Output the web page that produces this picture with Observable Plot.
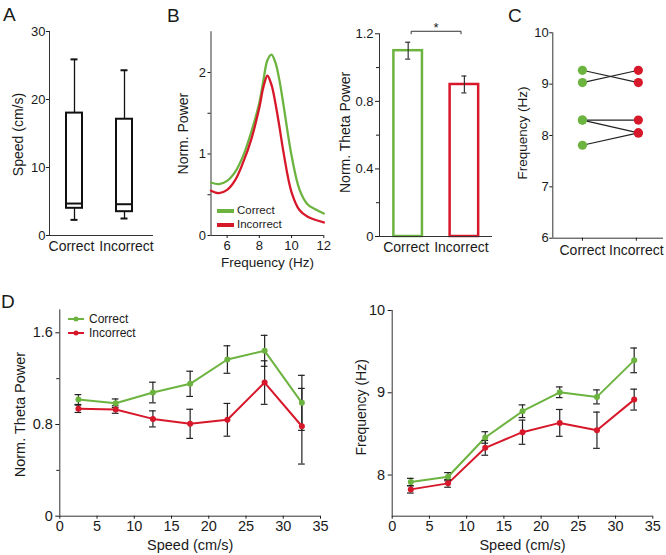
<!DOCTYPE html>
<html><head><meta charset="utf-8">
<script src="https://cdn.jsdelivr.net/npm/d3@7"></script>
<script src="https://cdn.jsdelivr.net/npm/@observablehq/plot@0.6"></script>
<style>
body{margin:0;background:#fff;}
#fig{position:relative;width:666px;height:555px;background:#fff;font-family:"Liberation Sans",Arial,sans-serif;color:#1a1a1a;overflow:hidden}
.letter{position:absolute;font-size:19px;line-height:1;}
.leg{position:absolute;line-height:1;display:flex;align-items:center;white-space:nowrap}
</style></head><body><div id="fig"></div>
<script>
// ---------- data ----------
const categories = ["Correct", "Incorrect"];
const GREEN = "#6cb33f", RED = "#d7182a";
// A: running speed box plots
const speedMin = [2.3, 2.5];
const speedQ1 = [4.0, 3.5];
const speedMedian = [4.7, 4.6];
const speedQ3 = [18.0, 17.1];
const speedMax = [25.9, 24.3];
const speedTicks = [0, 10, 20, 30];
// B left: power spectra
const spectrumFreq = [5, 5.5, 6, 6.5, 7, 7.5, 8, 8.25, 8.5, 8.75, 9, 9.25, 9.5, 10, 10.5, 11, 11.5, 12];
const powerCorrect = [0.65, 0.63, 0.67, 0.78, 0.98, 1.27, 1.63, 1.90, 2.15, 2.22, 2.12, 1.90, 1.60, 0.98, 0.56, 0.38, 0.32, 0.27];
const powerIncorrect = [0.55, 0.52, 0.56, 0.68, 0.90, 1.18, 1.57, 1.82, 1.96, 1.85, 1.62, 1.33, 1.02, 0.53, 0.31, 0.23, 0.19, 0.16];
const freqTicks = [6, 8, 10, 12];
const powerTicks = [0, 1, 2];
const powerMinorTicks = [0.5, 1.5];
// B right: theta power bars
const thetaMean = [1.10, 0.90];
const thetaSem = [0.05, 0.05];
const thetaTicks = [0, 0.4, 0.8, 1.2];
const thetaMinorTicks = [0.2, 0.6, 1.0];
const sigBracketX = [1.053, 1.053, 1.94, 1.94];
const sigBracketY = [1.2, 1.215, 1.215, 1.2];
const sigLabel = "*";
// C: per-animal frequency
const animalFreqCorrect = [9.27, 9.03, 8.30, 8.30, 7.81];
const animalFreqIncorrect = [9.03, 9.27, 8.30, 8.05, 8.05];
const freqCTicks = [6, 7, 8, 9, 10];
// D: by speed
const speedBins = [2.5, 7.5, 12.5, 17.5, 22.5, 27.5, 32.5];
const thetaByCorrect = [1.018, 0.986, 1.079, 1.155, 1.367, 1.443, 0.989];
const thetaByCorrectSem = [0.043, 0.037, 0.09, 0.11, 0.12, 0.135, 0.24];
const thetaByIncorrect = [0.937, 0.931, 0.849, 0.806, 0.841, 1.166, 0.785];
const thetaByIncorrectSem = [0.032, 0.033, 0.07, 0.127, 0.143, 0.19, 0.33];
const freqByCorrect = [7.915, 7.98, 8.457, 8.776, 9.006, 8.95, 9.394];
const freqByCorrectSem = [0.045, 0.05, 0.07, 0.077, 0.065, 0.085, 0.15];
const freqByIncorrect = [7.826, 7.899, 8.331, 8.521, 8.634, 8.545, 8.917];
const freqByIncorrectSem = [0.045, 0.047, 0.09, 0.147, 0.163, 0.22, 0.127];
const speedTicksD = [0, 5, 10, 15, 20, 25, 30, 35];
const thetaDTicks = [0, 0.8, 1.6];
const thetaDMinorTicks = [0.4, 1.2];
const freqDTicks = [8, 9, 10];

// ---------- helpers ----------
const fig = document.getElementById("fig");
const FONT = '"Liberation Sans", Arial, sans-serif';
const AX = "#333";
const TXT = "#1a1a1a";
const colorScale = {domain: categories, range: [GREEN, RED]};
function place(el, left, top) {
  el.style.position = "absolute"; el.style.left = left + "px"; el.style.top = top + "px";
  fig.appendChild(el);
}
function base(o) {
  return Object.assign({style: {fontFamily: FONT, fontSize: "13px", color: TXT, background: "transparent", overflow: "visible"}}, o);
}
const fmt = d => String(d);
const catFmt = i => categories[i - 1];
function yTitle(t, dx, dy, size) {
  return Plot.text([t], {text: d => d, frameAnchor: "left", textAnchor: "middle", lineAnchor: "middle", rotate: -90, dx, dy, fontSize: size, fill: TXT});
}
function xTitle(t, dy, size) {
  return Plot.text([t], {text: d => d, frameAnchor: "bottom", textAnchor: "middle", lineAnchor: "middle", dy, fontSize: size, fill: TXT});
}
function catAxis(tickSize, pad, dxs) {
  return [1, 2].map((t, k) => Plot.axisX({ticks: [t], tickSize, tickPadding: pad, label: null, tickFormat: catFmt, fontSize: 14, dx: dxs[k]}));
}
function letter(t, l, tp) { const d = document.createElement("div"); d.className = "letter"; d.textContent = t; d.style.left = l + "px"; d.style.top = tp + "px"; fig.appendChild(d); }

// ---------- A ----------
const boxData = categories.map((c, k) => ({cat: c, i: k + 1, min: speedMin[k], q1: speedQ1[k], med: speedMedian[k], q3: speedQ3[k], max: speedMax[k]}));
const xA = [0.5, 2.58];
place(Plot.plot(base({
  width: 160, height: 275, marginLeft: 49, marginRight: 7, marginTop: 31, marginBottom: 40,
  x: {domain: xA}, y: {domain: [0, 30]},
  marks: [
    Plot.ruleX([xA[0]], {stroke: AX}),
    Plot.ruleY([0], {stroke: AX}),
    Plot.axisY({ticks: speedTicks, tickSize: 3, tickPadding: 1, label: null, tickFormat: fmt, fontSize: 13}),
    ...catAxis(0, 6, [-3, 2]),
    Plot.ruleX(boxData, {x: "i", y1: "q3", y2: "max", stroke: "#111", strokeWidth: 1.3}),
    Plot.ruleX(boxData, {x: "i", y1: "min", y2: "q1", stroke: "#111", strokeWidth: 1.3}),
    Plot.rect(boxData, {x1: d => d.i - 0.16, x2: d => d.i + 0.16, y1: "q1", y2: "q3", fill: "white", stroke: "#111", strokeWidth: 2}),
    Plot.ruleY(boxData, {y: "med", x1: d => d.i - 0.16, x2: d => d.i + 0.16, stroke: "#111", strokeWidth: 2}),
    Plot.ruleY(boxData, {y: "max", x1: d => d.i - 0.07, x2: d => d.i + 0.07, stroke: "#111", strokeWidth: 2}),
    Plot.ruleY(boxData, {y: "min", x1: d => d.i - 0.07, x2: d => d.i + 0.07, stroke: "#111", strokeWidth: 2}),
    yTitle("Speed (cm/s)", -31, 1, 14)
  ]
})), 0, 0);

// ---------- B left ----------
const spec = [];
spectrumFreq.forEach((f, k) => { spec.push({f, v: powerCorrect[k], cat: categories[0]}); spec.push({f, v: powerIncorrect[k], cat: categories[1]}); });
place(Plot.plot(base({
  width: 165, height: 275, marginLeft: 45.5, marginRight: 6.7, marginTop: 31.25, marginBottom: 40,
  x: {domain: [5, 12]}, y: {domain: [0, 2.5]}, color: colorScale,
  marks: [
    Plot.ruleX([5], {stroke: AX}),
    Plot.ruleY([0], {stroke: AX}),
    Plot.axisY({ticks: powerTicks, tickSize: 3, tickPadding: 2, label: null, tickFormat: fmt, fontSize: 13}),
    Plot.axisY({ticks: powerMinorTicks, tickSize: 3, label: null, tickFormat: () => ""}),
    Plot.axisX({ticks: freqTicks, tickSize: 3, tickPadding: 2, label: null, tickFormat: fmt, fontSize: 13}),
    Plot.line(spec, {x: "f", y: "v", z: "cat", stroke: "cat", strokeWidth: 2.3, curve: "catmull-rom"}),
    yTitle("Norm. Power", -27.5, 0, 14),
    xTitle("Frequency (Hz)", 27.5, 13.5)
  ]
})), 165, 0);
categories.forEach((c, k) => {
  const d = document.createElement("div"); d.className = "leg"; d.style.fontSize = "11.5px";
  d.innerHTML = `<span style="display:inline-block;width:17px;height:4px;background:${colorScale.range[k]};margin-right:3px"></span>${c}`;
  d.style.left = "217px"; d.style.top = (205 + k * 14) + "px"; d.style.height = "12px";
  fig.appendChild(d);
});

// ---------- B right ----------
const bars = categories.map((c, k) => ({cat: c, i: k + 1, m: thetaMean[k], s: thetaSem[k]}));
const bracket = sigBracketX.map((x, k) => ({x, y: sigBracketY[k]}));
const xB = [0.49, 2.5];
place(Plot.plot(base({
  width: 160, height: 275, marginLeft: 44, marginRight: 3, marginTop: 33.3, marginBottom: 39,
  x: {domain: xB}, y: {domain: [0, 1.2]}, color: colorScale,
  marks: [
    Plot.ruleX([xB[0]], {stroke: AX}),
    Plot.axisY({ticks: thetaTicks, tickSize: 4, tickPadding: 2, label: null, tickFormat: fmt, fontSize: 13}),
    Plot.axisY({ticks: thetaMinorTicks, tickSize: 3, label: null, tickFormat: () => ""}),
    ...catAxis(0, 6, [-2, -3]),
    Plot.rect(bars, {x1: d => d.i - 0.254, x2: d => d.i + 0.254, y1: 0, y2: "m", fill: "white", stroke: "cat", strokeWidth: 2.5}),
    Plot.ruleY([0], {stroke: AX}),
    Plot.ruleX(bars, {x: "i", y1: d => d.m - d.s, y2: d => d.m + d.s, stroke: "#333", strokeWidth: 1.2}),
    Plot.ruleY(bars, {y: d => d.m - d.s, x1: d => d.i - 0.045, x2: d => d.i + 0.045, stroke: "#333", strokeWidth: 1.2}),
    Plot.ruleY(bars, {y: d => d.m + d.s, x1: d => d.i - 0.045, x2: d => d.i + 0.045, stroke: "#333", strokeWidth: 1.2}),
    Plot.line(bracket, {x: "x", y: "y", stroke: "#333", strokeWidth: 1}),
    Plot.text([sigLabel], {text: d => d, x: (sigBracketX[0] + sigBracketX[2]) / 2, y: sigBracketY[1], dy: -3, fontSize: 13, fill: TXT}),
    yTitle("Norm. Theta Power", -34, -2.7, 14)
  ]
})), 335, 0);

// ---------- C ----------
const pairs = animalFreqCorrect.map((v, k) => ({c: v, w: animalFreqIncorrect[k]}));
const ptsC = [];
pairs.forEach(p => { ptsC.push({i: 1, v: p.c, cat: categories[0]}); ptsC.push({i: 2, v: p.w, cat: categories[1]}); });
const xC = [0.47, 2.45];
place(Plot.plot(base({
  width: 166, height: 275, marginLeft: 52.3, marginRight: 3, marginTop: 32.3, marginBottom: 37.3,
  x: {domain: xC}, y: {domain: [6, 10]}, color: colorScale,
  marks: [
    Plot.ruleX([xC[0]], {stroke: AX}),
    Plot.ruleY([6], {stroke: AX}),
    Plot.axisY({ticks: freqCTicks, tickSize: 3, tickPadding: 1, label: null, tickFormat: fmt, fontSize: 13}),
    ...catAxis(3, 4, [0, -2]),
    Plot.link(pairs, {x1: () => 1, y1: "c", x2: () => 2, y2: "w", stroke: "#222", strokeWidth: 1.2}),
    Plot.dot(ptsC, {x: "i", y: "v", r: 4.6, fill: "cat", stroke: "none"}),
    yTitle("Frequency (Hz)", -30, -2.5, 13.5)
  ]
})), 500, 0);

// ---------- D ----------
function seriesD(vc, sc, vi, si) {
  const out = [];
  speedBins.forEach((s, k) => { out.push({s, v: vc[k], e: sc[k], cat: categories[0]}); out.push({s, v: vi[k], e: si[k], cat: categories[1]}); });
  return out;
}
function errMarks(data) {
  return [
    Plot.ruleX(data, {x: "s", y1: d => d.v - d.e, y2: d => d.v + d.e, stroke: "#222", strokeWidth: 1.2}),
    Plot.ruleY(data, {y: d => d.v - d.e, x1: d => d.s - 0.45, x2: d => d.s + 0.45, stroke: "#222", strokeWidth: 1.2}),
    Plot.ruleY(data, {y: d => d.v + d.e, x1: d => d.s - 0.45, x2: d => d.s + 0.45, stroke: "#222", strokeWidth: 1.2})
  ];
}
const dTheta = seriesD(thetaByCorrect, thetaByCorrectSem, thetaByIncorrect, thetaByIncorrectSem);
place(Plot.plot(base({
  width: 335, height: 265, marginLeft: 59.3, marginRight: 15, marginTop: 19.4, marginBottom: 39.3,
  x: {domain: [0, 35]}, y: {domain: [0, 1.8]}, color: colorScale,
  marks: [
    Plot.ruleX([0], {stroke: AX}),
    Plot.ruleY([0], {stroke: AX}),
    Plot.axisY({ticks: thetaDTicks, tickSize: 4, tickPadding: 3, label: null, tickFormat: fmt, fontSize: 14.5}),
    Plot.axisY({ticks: thetaDMinorTicks, tickSize: 3, label: null, tickFormat: () => ""}),
    Plot.axisX({ticks: speedTicksD, tickSize: 3, tickPadding: 2, label: null, tickFormat: fmt, fontSize: 14.5}),
    Plot.line(dTheta, {x: "s", y: "v", z: "cat", stroke: "cat", strokeWidth: 2}),
    ...errMarks(dTheta),
    Plot.dot(dTheta, {x: "s", y: "v", r: 3, fill: "cat", stroke: "none"}),
    yTitle("Norm. Theta Power", -39.3, 1.5, 14.5),
    xTitle("Speed (cm/s)", 29.3, 14.5)
  ]
})), 0, 290);
categories.forEach((c, k) => {
  const col = colorScale.range[k];
  const d = document.createElement("div"); d.className = "leg"; d.style.fontSize = "12px";
  d.innerHTML = `<svg width="16" height="8" style="margin-right:5px"><line x1="0" y1="4" x2="16" y2="4" stroke="${col}" stroke-width="2"/><circle cx="8" cy="4" r="2.5" fill="${col}"/></svg>${c}`;
  d.style.left = "68px"; d.style.top = (313 + k * 13.7) + "px"; d.style.height = "12px";
  fig.appendChild(d);
});

const dFreq = seriesD(freqByCorrect, freqByCorrectSem, freqByIncorrect, freqByIncorrectSem);
place(Plot.plot(base({
  width: 326, height: 265, marginLeft: 51.7, marginRight: 13.7, marginTop: 20, marginBottom: 39.3,
  x: {domain: [0, 35]}, y: {domain: [7.5, 10]}, color: colorScale,
  marks: [
    Plot.ruleX([0], {stroke: AX}),
    Plot.ruleY([7.5], {stroke: AX}),
    Plot.axisY({ticks: freqDTicks, tickSize: 4, tickPadding: 3, label: null, tickFormat: fmt, fontSize: 14.5}),
    Plot.axisX({ticks: speedTicksD, tickSize: 3, tickPadding: 2, label: null, tickFormat: fmt, fontSize: 14.5}),
    Plot.line(dFreq, {x: "s", y: "v", z: "cat", stroke: "cat", strokeWidth: 2}),
    ...errMarks(dFreq),
    Plot.dot(dFreq, {x: "s", y: "v", r: 3, fill: "cat", stroke: "none"}),
    yTitle("Frequency (Hz)", -31, -6, 14),
    xTitle("Speed (cm/s)", 29.3, 14.5)
  ]
})), 340, 290);

letter("A", 3, 5);
letter("B", 167, 6);
letter("C", 508, 6);
letter("D", 1, 292);
</script></body></html>
